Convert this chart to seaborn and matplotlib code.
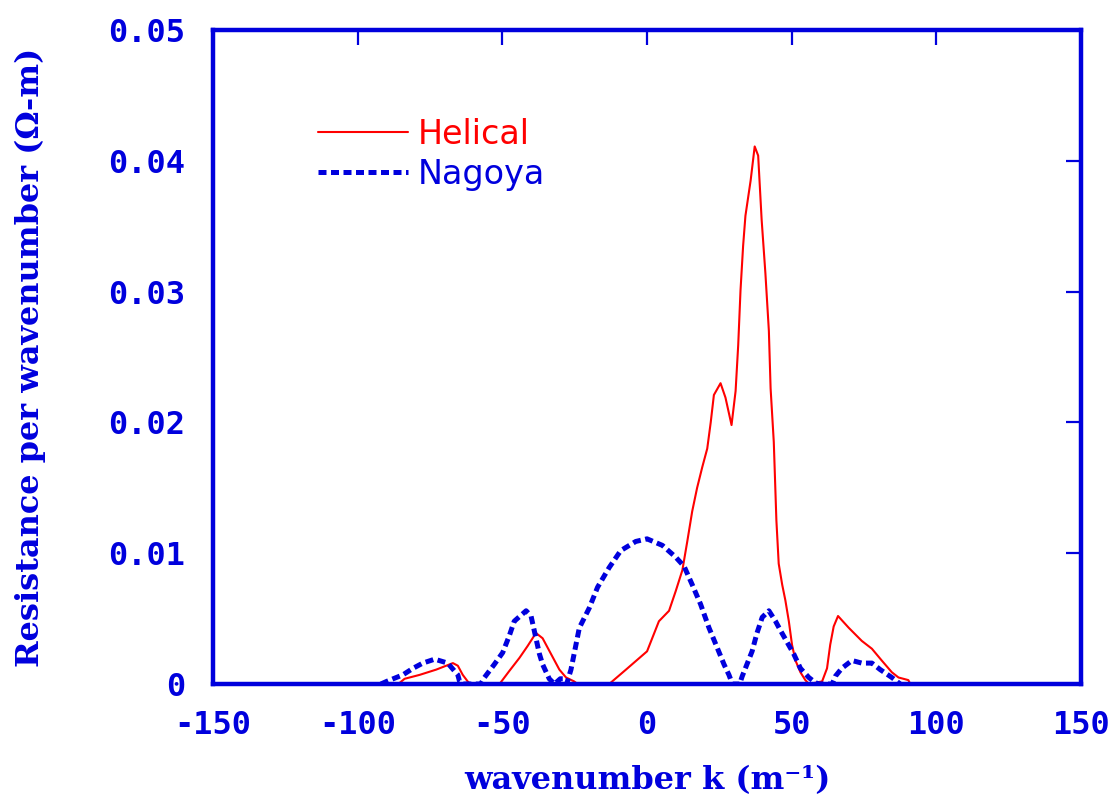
import matplotlib
matplotlib.use("Agg")
import matplotlib.pyplot as plt
import seaborn as sns
import pandas as pd

# Resistance per wavenumber for two antenna types
k_helical = [-86, -83.8, -78.6, -72.9, -67.1, -65.4, -63.7, -62, -61, -51, -47.6, -44.1,
             -41.3, -38.4, -36.1, -33.2, -30.3, -28, -25.2, -24, -13.1, -7.3, 0, 4.1, 7.6,
             9.9, 12.2, 13.9, 15.6, 17.3, 19.1, 20.8, 22.0, 23.1, 25.4, 27.1, 29.2, 30.6,
             31.5, 32.3, 33.2, 34.0, 35.8, 37.2, 38.4, 39.6, 40.9, 42.1, 42.7, 43.8, 44.7,
             45.5, 46.7, 47.8, 49.0, 50.1, 51.3, 53.0, 54.7, 56, 60.5, 62.2, 63.3, 64.5,
             66.0, 69.7, 74.2, 77.7, 81.1, 84.6, 86.9, 90.3, 91]
r_helical = [0, 0.0004, 0.0007, 0.0011, 0.0016, 0.0014, 0.0007, 0.0002, 0, 0, 0.0010, 0.0020,
             0.0029, 0.0039, 0.0035, 0.0023, 0.0011, 0.0005, 0.0002, 0, 0, 0.0011, 0.0025,
             0.0048, 0.0056, 0.0071, 0.0087, 0.0109, 0.0132, 0.0150, 0.0166, 0.0180, 0.0200,
             0.0221, 0.0230, 0.0219, 0.0198, 0.0224, 0.0259, 0.0301, 0.0335, 0.0358, 0.0385,
             0.0411, 0.0404, 0.0355, 0.0314, 0.0270, 0.0226, 0.0185, 0.0125, 0.0092, 0.0076,
             0.0064, 0.0048, 0.0030, 0.0018, 0.0009, 0.0003, 0, 0.0002, 0.0012, 0.0030,
             0.0044, 0.0052, 0.0043, 0.0033, 0.0027, 0.0018, 0.0009, 0.0005, 0.0003, 0]

k_nagoya = [-92, -90, -84.4, -80.9, -77.5, -73.4, -68.9, -65.4, -64.8, -63.5, -57.5, -56.2,
            -52.8, -49.9, -47.6, -45.9, -41.8, -40.1, -39.0, -37.2, -36.1, -33.8, -32, -30,
            -29, -27.8, -26.3, -23.4, -20, -17.1, -13.1, -9.1, -3.9, 0, 5.3, 9.9, 12.8, 15.6,
            18.5, 21.4, 24.2, 26.6, 28.3, 29.5, 32, 32.9, 36.3, 38.0, 39.8, 42.1, 44.4, 46.1,
            48.4, 50.7, 53.0, 55.9, 58.2, 59.5, 64, 65.1, 67.3, 70.8, 74.2, 77.7, 80.6, 84.6,
            87.5]
r_nagoya = [0, 0.0002, 0.0007, 0.0012, 0.0016, 0.0019, 0.0016, 0.0007, 0.0002, 0, 0, 0.0005,
            0.0015, 0.0024, 0.0037, 0.0048, 0.0056, 0.0052, 0.0041, 0.0023, 0.0015, 0.0004, 0,
            0.0004, 0.0004, 0, 0.0011, 0.0043, 0.0058, 0.0074, 0.0089, 0.0102, 0.0109, 0.0111,
            0.0106, 0.0097, 0.0090, 0.0076, 0.0061, 0.0043, 0.0028, 0.0015, 0.0007, 0, 0,
            0.0006, 0.0025, 0.0039, 0.0051, 0.0056, 0.0048, 0.0041, 0.0032, 0.0023, 0.0012,
            0.0005, 0.0001, 0, 0, 0.0006, 0.0012, 0.0018, 0.0016, 0.0016, 0.0011, 0.0005, 0]

x_ticks = [-150, -100, -50, 0, 50, 100, 150]
y_ticks = [0, 0.01, 0.02, 0.03, 0.04, 0.05]
y_tick_labels = ["0", "0.01", "0.02", "0.03", "0.04", "0.05"]

BLUE = "#0000dd"
RED = "#ff0000"

sns.set_style("white")
plt.rcParams["axes.unicode_minus"] = False

helical = pd.DataFrame({"k": k_helical, "R": r_helical})
nagoya = pd.DataFrame({"k": k_nagoya, "R": r_nagoya})

fig = plt.figure(figsize=(11.16, 7.99), dpi=100)
ax = fig.add_axes([0.1909, 0.1439, 0.7778, 0.8185])

sns.lineplot(data=helical, x="k", y="R", ax=ax, color=RED, linewidth=1.5,
             estimator=None, sort=False, label="Helical")
sns.lineplot(data=nagoya, x="k", y="R", ax=ax, color=BLUE, linewidth=3.6,
             linestyle=(0, (1.6, 0.9)), estimator=None, sort=False, label="Nagoya")

ax.set_xlim(-150, 150)
ax.set_ylim(0, 0.05)
ax.set_xticks(x_ticks)
ax.set_xticklabels([str(t) for t in x_ticks])
ax.set_yticks(y_ticks)
ax.set_yticklabels(y_tick_labels)

for side in ["left", "right", "top", "bottom"]:
    ax.spines[side].set_visible(True)
    ax.spines[side].set_color(BLUE)
    ax.spines[side].set_linewidth(3.2)

ax.tick_params(axis="both", which="major", direction="in", length=11, width=1.6,
               color=BLUE, labelcolor=BLUE, top=True, right=True,
               labeltop=False, labelright=False)
ax.tick_params(axis="y", pad=20)
ax.tick_params(axis="x", pad=19)
for lab in ax.get_xticklabels() + ax.get_yticklabels():
    lab.set_fontfamily("DejaVu Sans Mono")
    lab.set_fontweight("bold")
    lab.set_fontsize(23)

ax.set_xlabel("wavenumber k (m\u207b\u00b9)", fontfamily="DejaVu Serif", fontweight="bold",
              fontsize=23, color=BLUE, labelpad=17)
ax.set_ylabel("Resistance per wavenumber (\u03a9-m)", fontfamily="DejaVu Serif",
              fontweight="bold", fontsize=23, color=BLUE, labelpad=45)

leg = ax.legend(loc="upper left", bbox_to_anchor=(0.121, 0.866), frameon=False,
                borderpad=0, borderaxespad=0, handlelength=2.7, handletextpad=0.3,
                labelspacing=0.22, prop={"family": "DejaVu Sans", "size": 24})
for text, col in zip(leg.get_texts(), [RED, BLUE]):
    text.set_color(col)

fig.savefig("out.png", dpi=100, facecolor="white")
